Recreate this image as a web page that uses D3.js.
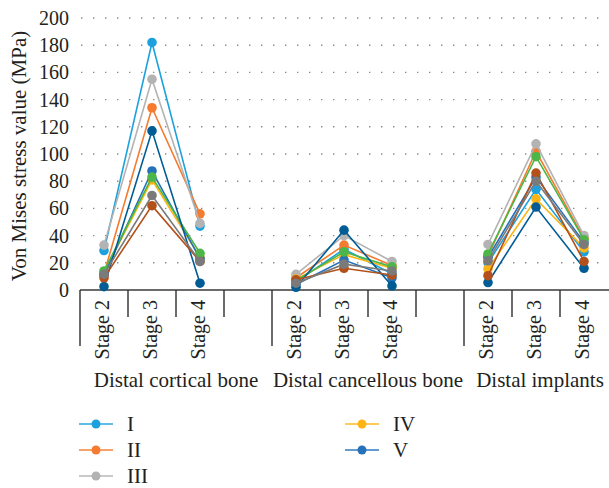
<!DOCTYPE html>
<html>
<head>
<meta charset="utf-8">
<script src="https://cdn.jsdelivr.net/npm/d3@7"></script>
<style>
    body { margin: 0; background: #fff; }
    text { font-family: "Liberation Serif", "DejaVu Serif", serif; fill: #231f20; }
</style>
</head>
<body>
<script>
(function(){
    // chart data
    var groups = ["Distal cortical bone", "Distal cancellous bone", "Distal implants"];
    var stages = ["Stage 2", "Stage 3", "Stage 4"];
    var yTicks = [0, 20, 40, 60, 80, 100, 120, 140, 160, 180, 200];
    var seriesNames = ["I", "II", "III", "IV", "V", "VI", "VII", "VIII", "IX"];
    var legendNames = ["I", "II", "III", "IV", "V"];

    // values per series, order: group1 stage2..4, group2 stage2..4, group3 stage2..4
    var valuesI    = [29, 182, 47, 6, 30, 12, 20, 74, 28];
    var valuesII   = [12, 134, 56, 9, 33, 18, 25, 102, 38];
    var valuesIII  = [33, 155, 49, 11.5, 40, 21, 33.5, 107.5, 40];
    var valuesIV   = [13, 81, 24, 8, 26, 16, 15.5, 67, 31];
    var valuesV    = [11, 87.5, 23, 4, 22, 9, 24, 83, 35];
    var valuesVI   = [14, 83, 27, 7, 28, 17, 26.5, 98, 37];
    var valuesVII  = [2.5, 117, 5, 2, 44, 3, 5.5, 61, 16];
    var valuesVIII = [9, 62, 21, 7.5, 16, 11, 10.5, 86, 21];
    var valuesIX   = [11.5, 69.5, 21, 5, 19, 14, 21.5, 80, 33.5];

    var allValues = [valuesI, valuesII, valuesIII, valuesIV, valuesV,
                     valuesVI, valuesVII, valuesVIII, valuesIX];

    var colors = ["#1ca1de", "#f47b2f", "#b3b3b3", "#fdb515", "#2571ba",
                  "#4cb748", "#005c94", "#b4501a", "#7a7a7a"];

    var width = 609, height = 488,
        left = 80, right = 608,
        top = 18, bottom = 290;

    // slots: 3 stages + blank spacer for first two groups, 3 stages for the last
    var slots = [];
    groups.forEach(function(g, gi){
        stages.forEach(function(s){ slots.push(g + "|" + s); });
        if (gi < groups.length - 1) slots.push(g + "|blank");
    });

    var x = d3.scaleBand().domain(slots).range([left, right]).padding(0);
    var y = d3.scaleLinear().domain([0, 200]).range([bottom, top]);
    var cx = function(k){ return x(k) + x.bandwidth() / 2; };

    var svg = d3.select("body").append("svg")
        .attr("width", width)
        .attr("height", height);

    // dotted grid
    svg.selectAll(".grid")
        .data(yTicks.slice(1))
        .enter()
        .append("line")
        .attr("class", "grid")
        .attr("x1", left + 1)
        .attr("x2", width)
        .attr("y1", d => y(d))
        .attr("y2", d => y(d))
        .attr("stroke", "#8a8a8a")
        .attr("stroke-width", 1.4)
        .attr("stroke-dasharray", "1.4,10.6");

    // y tick labels
    svg.selectAll(".ylab")
        .data(yTicks)
        .enter()
        .append("text")
        .attr("class", "ylab")
        .attr("x", 69)
        .attr("y", d => y(d))
        .attr("dy", "0.35em")
        .attr("text-anchor", "end")
        .style("font-size", "20px")
        .text(d => d);

    svg.append("text")
        .attr("transform", "translate(26," + ((top + bottom) / 2 + 2) + ") rotate(-90)")
        .attr("text-anchor", "middle")
        .style("font-size", "21px")
        .text("Von Mises stress value (MPa)");

    // x axis line and ticks
    svg.append("line")
        .attr("x1", left).attr("x2", width)
        .attr("y1", bottom).attr("y2", bottom)
        .attr("stroke", "#3a3a3a")
        .attr("stroke-width", 1.5);

    var tickData = slots.map(function(k, i){
        return { x: x(k), long: i === 0 || slots[i - 1].indexOf("|blank") > 0 };
    });
    svg.selectAll(".xtick")
        .data(tickData)
        .enter()
        .append("line")
        .attr("class", "xtick")
        .attr("x1", d => d.x).attr("x2", d => d.x)
        .attr("y1", bottom)
        .attr("y2", d => d.long ? 346 : 317)
        .attr("stroke", "#3a3a3a")
        .attr("stroke-width", 1.5);

    // stage labels
    svg.selectAll(".stage")
        .data(slots.filter(k => k.indexOf("|blank") < 0))
        .enter()
        .append("text")
        .attr("class", "stage")
        .attr("transform", d => "translate(" + (cx(d) + 5) + ",300) rotate(-90)")
        .attr("text-anchor", "end")
        .style("font-size", "20px")
        .text(d => d.split("|")[1]);

    // group labels, centred over the group's span (incl. its spacer slot)
    var groupSpan = function(g, gi){
        var start = x(g + "|" + stages[0]);
        var end = gi < groups.length - 1 ? x(groups[gi + 1] + "|" + stages[0]) : right + 8;
        return (start + end) / 2;
    };
    svg.selectAll(".group")
        .data(groups)
        .enter()
        .append("text")
        .attr("class", "group")
        .attr("x", (g, gi) => groupSpan(g, gi))
        .attr("y", 387)
        .attr("text-anchor", "middle")
        .style("font-size", "21px")
        .text(g => g);

    // series lines and markers, one polyline per group
    var line = d3.line().x(d => cx(d.key)).y(d => y(d.value));

    allValues.forEach(function(vals, si){
        var pts = vals.map(function(v, i){
            var g = groups[Math.floor(i / 3)], s = stages[i % 3];
            return { key: g + "|" + s, value: v, group: g };
        });
        var layer = svg.append("g").attr("class", "series s" + si);
        groups.forEach(function(g){
            layer.append("path")
                .datum(pts.filter(p => p.group === g))
                .attr("d", line)
                .attr("fill", "none")
                .attr("stroke", colors[si])
                .attr("stroke-width", 1.6);
        });
        layer.selectAll("circle")
            .data(pts)
            .enter()
            .append("circle")
            .attr("cx", d => cx(d.key))
            .attr("cy", d => y(d.value))
            .attr("r", 4.8)
            .attr("fill", colors[si]);
    });

    // legend (I-III in first column, IV-V in second)
    var legend = svg.selectAll(".legend")
        .data(legendNames)
        .enter()
        .append("g")
        .attr("class", "legend")
        .attr("transform", function(d, i){
            var col = Math.floor(i / 3), row = i % 3;
            return "translate(" + (col === 0 ? 79 : 345) + "," + (424 + row * 26) + ")";
        });

    legend.append("line")
        .attr("x1", 0).attr("x2", 34)
        .attr("stroke", (d, i) => colors[seriesNames.indexOf(d)])
        .attr("stroke-opacity", 0.7)
        .attr("stroke-width", 2);

    legend.append("circle")
        .attr("cx", 17)
        .attr("r", 4.5)
        .attr("fill", (d, i) => colors[seriesNames.indexOf(d)]);

    legend.append("text")
        .attr("x", 48)
        .attr("y", 7)
        .style("font-size", "21px")
        .text(d => d);
})();
</script>
</body>
</html>
